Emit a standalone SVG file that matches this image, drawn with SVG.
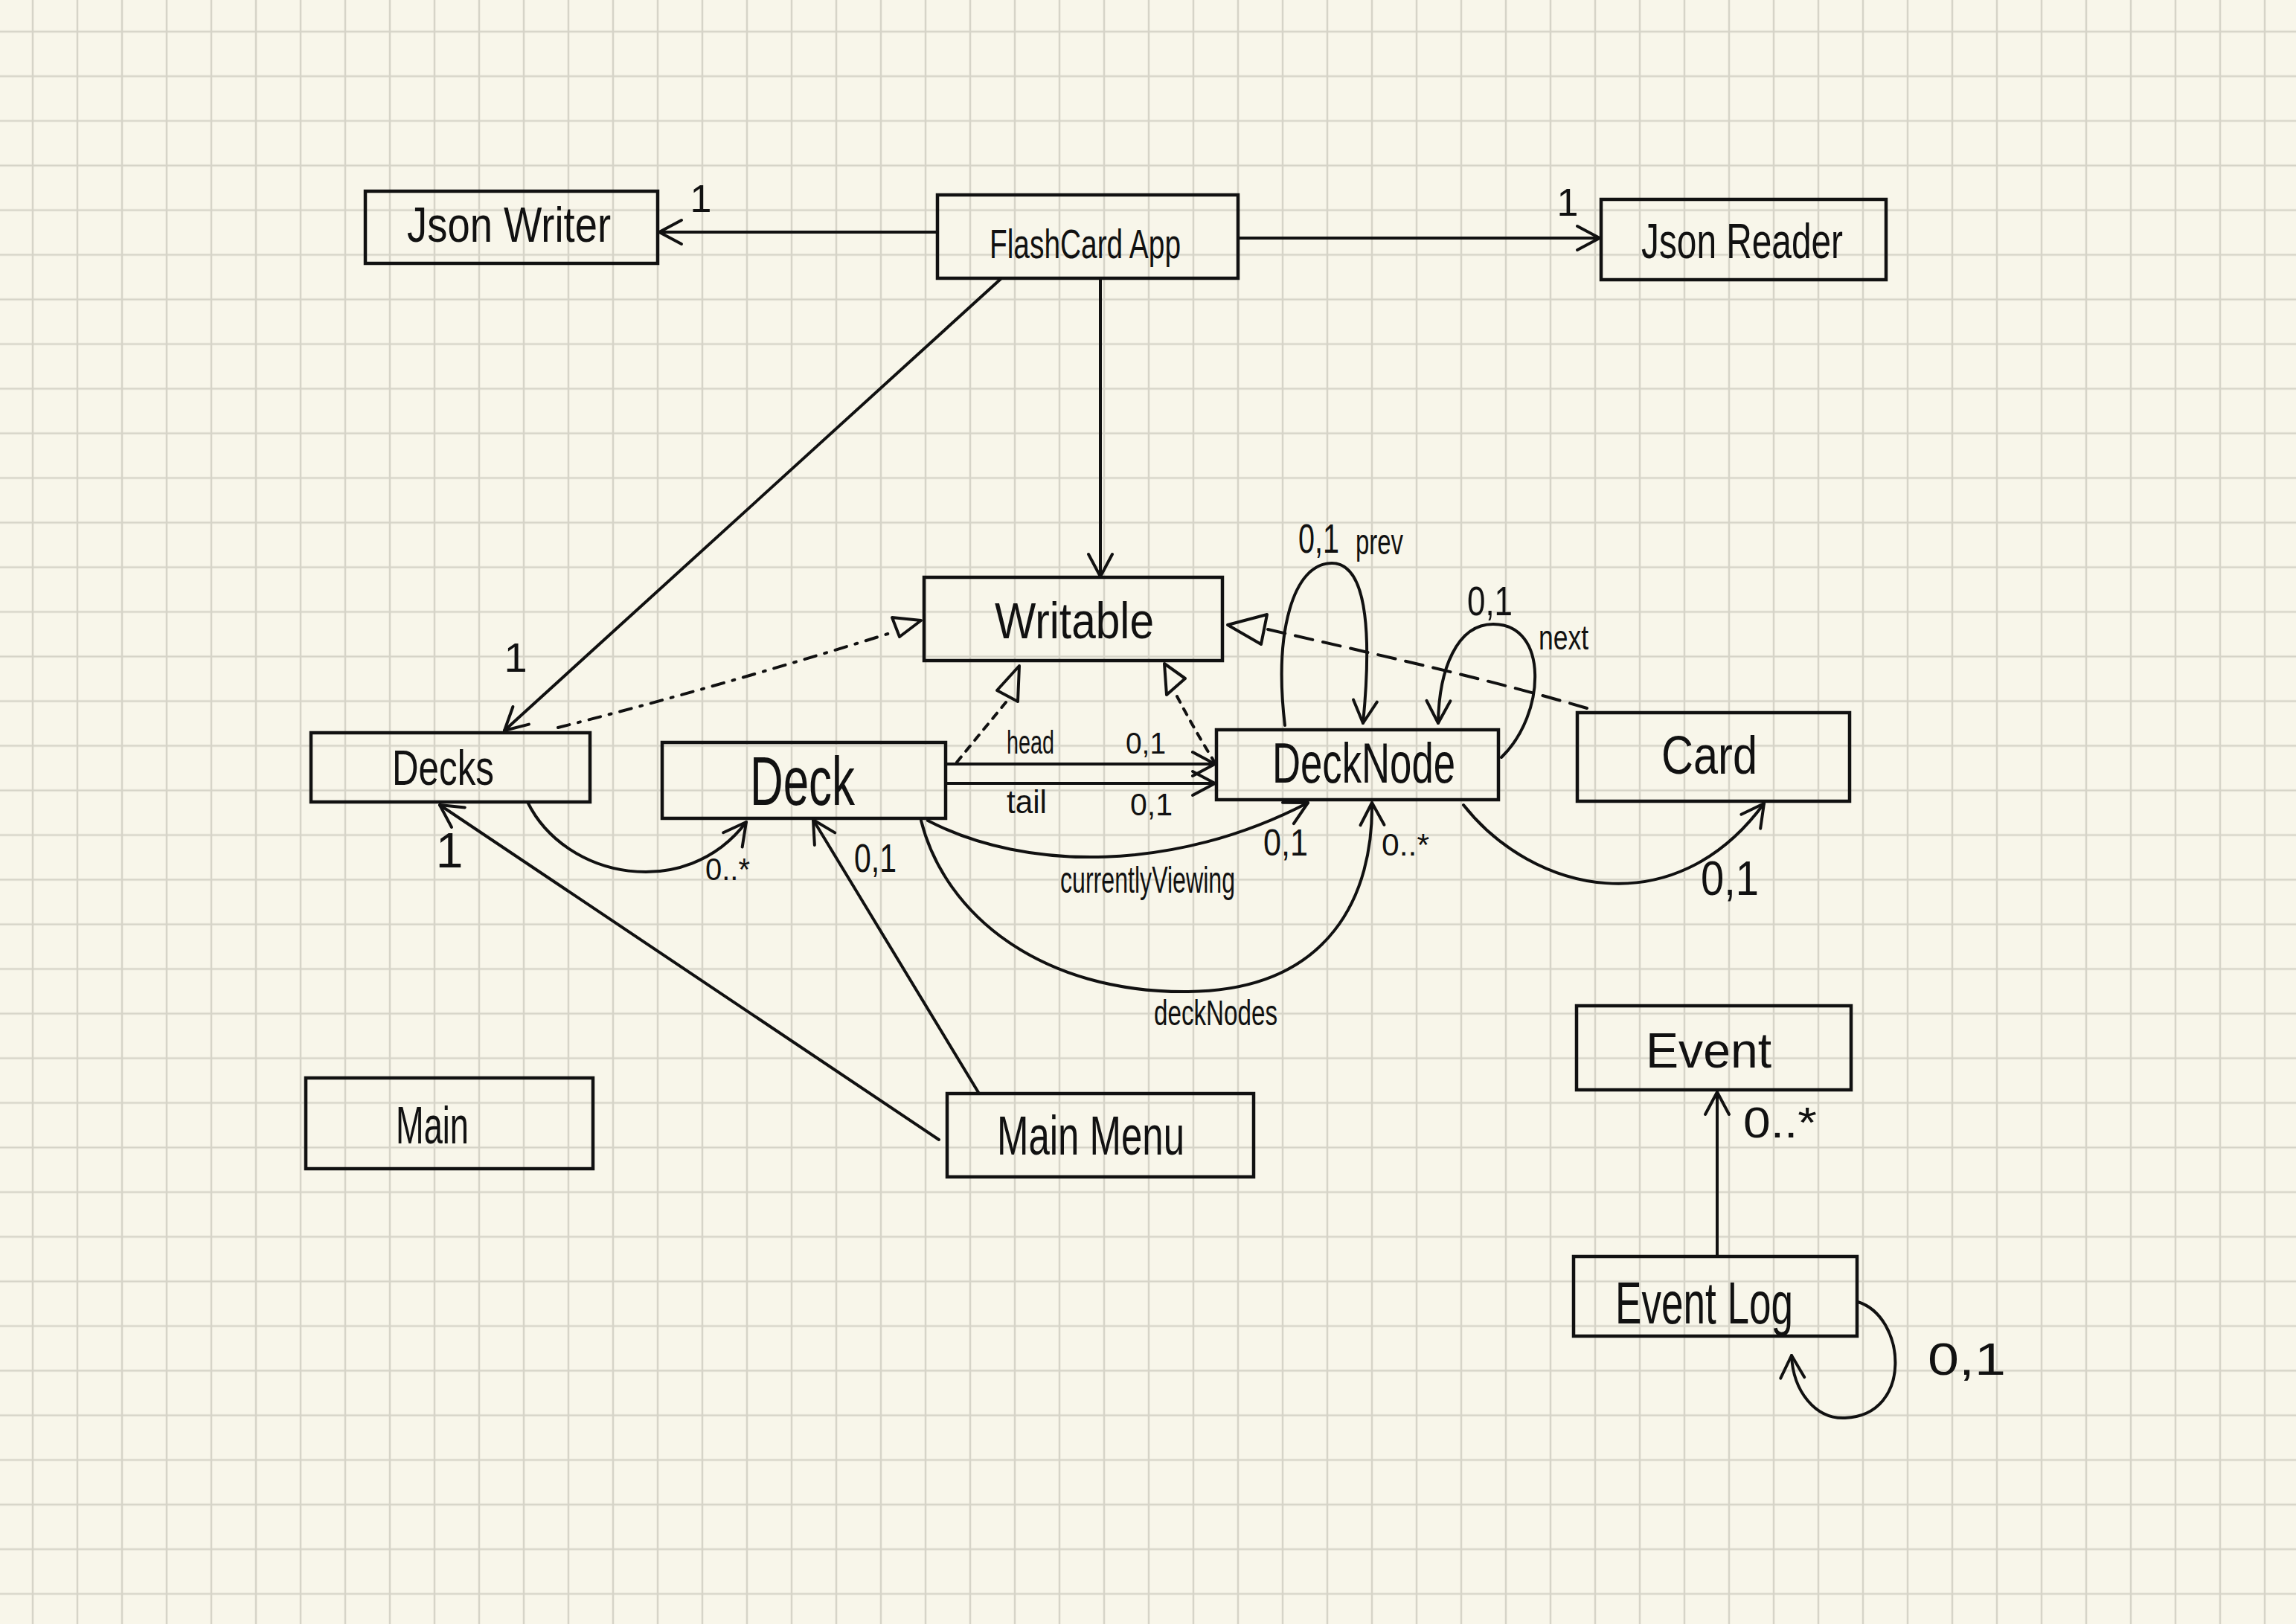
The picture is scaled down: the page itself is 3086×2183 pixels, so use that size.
<svg xmlns="http://www.w3.org/2000/svg" width="3086" height="2183" viewBox="0 0 3086 2183">
  <defs>
    <pattern id="grid" patternUnits="userSpaceOnUse" x="14" y="12.5" width="60" height="60">
      <path d="M30 0 V60 M0 30 H60" stroke="#d6d4c8" stroke-width="2.5" fill="none"/>
    </pattern>
    <marker id="open" viewBox="0 0 44 44" refX="40" refY="22" markerWidth="44" markerHeight="44" markerUnits="userSpaceOnUse" orient="auto">
      <path d="M10 6 L40 22 L10 38" fill="none" stroke="#111" stroke-width="4" stroke-linecap="round" stroke-linejoin="round"/>
    </marker>
    <style>
      .box { fill: none; stroke: #111; stroke-width: 4.5; }
      .ln { fill: none; stroke: #111; stroke-width: 4; stroke-linecap: round; }
      .arr { marker-end: url(#open); }
      .dashdot { stroke-dasharray: 16 12 3 12; }
      .dot { stroke-dasharray: 9 10; }
      .dash { stroke-dasharray: 24 14; }
      .tri { fill: none; stroke: #111; stroke-width: 4; stroke-linejoin: round; }
      text { font-family: "Liberation Sans Narrow", "Liberation Sans", "DejaVu Sans Condensed", sans-serif; fill: #111; }
    </style>
  </defs>

  <!-- squared notebook paper -->
  <rect width="3086" height="2183" fill="#f8f6ea"/>
  <rect width="3086" height="2183" fill="url(#grid)"/>

  <!-- class boxes -->
  <g id="json-writer">
    <rect class="box" x="491" y="257" width="393" height="97"/>
    <text x="547" y="325" font-size="67" textLength="274" lengthAdjust="spacingAndGlyphs">Json Writer</text>
  </g>
  <g id="flashcard-app">
    <rect class="box" x="1260" y="262" width="404" height="112"/>
    <text x="1330" y="347" font-size="56" textLength="257" lengthAdjust="spacingAndGlyphs">FlashCard App</text>
  </g>
  <g id="json-reader">
    <rect class="box" x="2152" y="268" width="383" height="108"/>
    <text x="2206" y="347" font-size="66" textLength="271" lengthAdjust="spacingAndGlyphs">Json Reader</text>
  </g>
  <g id="writable">
    <rect class="box" x="1242" y="776" width="401" height="112"/>
    <text x="1337" y="858" font-size="68" textLength="214" lengthAdjust="spacingAndGlyphs">Writable</text>
  </g>
  <g id="decks">
    <rect class="box" x="418" y="985" width="375" height="93"/>
    <text x="527" y="1055" font-size="66" textLength="137" lengthAdjust="spacingAndGlyphs">Decks</text>
  </g>
  <g id="deck">
    <rect class="box" x="890" y="998" width="381" height="102"/>
    <text x="1008" y="1082" font-size="92" textLength="141" lengthAdjust="spacingAndGlyphs">Deck</text>
  </g>
  <g id="deck-node">
    <rect class="box" x="1635" y="981" width="379" height="94"/>
    <text x="1710" y="1052" font-size="76" textLength="246" lengthAdjust="spacingAndGlyphs">DeckNode</text>
  </g>
  <g id="card">
    <rect class="box" x="2120" y="958" width="366" height="119"/>
    <text x="2233" y="1040" font-size="72" textLength="129" lengthAdjust="spacingAndGlyphs">Card</text>
  </g>
  <g id="main">
    <rect class="box" x="411" y="1449" width="386" height="122"/>
    <text x="532" y="1537" font-size="70" textLength="98" lengthAdjust="spacingAndGlyphs">Main</text>
  </g>
  <g id="main-menu">
    <rect class="box" x="1273" y="1470" width="412" height="112"/>
    <text x="1340" y="1552" font-size="75" textLength="252" lengthAdjust="spacingAndGlyphs">Main Menu</text>
  </g>
  <g id="event">
    <rect class="box" x="2119" y="1352" width="369" height="113"/>
    <text x="2212" y="1435" font-size="67" textLength="169" lengthAdjust="spacingAndGlyphs">Event</text>
  </g>
  <g id="event-log">
    <rect class="box" x="2115" y="1689" width="381" height="107"/>
    <text x="2171" y="1779" font-size="80" textLength="239" lengthAdjust="spacingAndGlyphs">Event Log</text>
  </g>

  <!-- associations and realizations -->
  <g id="connectors">
    <!-- FlashCard App -> Json Writer / Json Reader -->
    <path class="ln arr" d="M1260 312 L886 312"/>
    <text x="942" y="285" font-size="52" text-anchor="middle">1</text>
    <path class="ln arr" d="M1664 320 L2150 320"/>
    <text x="2107" y="290" font-size="52" text-anchor="middle">1</text>

    <!-- FlashCard App -> Decks / Writable -->
    <path class="ln arr" d="M1345 375 L678 982"/>
    <text x="693" y="903" font-size="56" text-anchor="middle">1</text>
    <path class="ln arr" d="M1479 374 L1479 775"/>

    <!-- Decks realizes Writable -->
    <path class="ln dashdot" d="M750 978 Q 960 925 1203 849"/>
    <polygon class="tri" points="1199,830 1238,834 1209,856"/>

    <!-- Deck realizes Writable -->
    <path class="ln dot" d="M1352 944 L1284 1027"/>
    <polygon class="tri" points="1370,895 1340,928 1368,943"/>

    <!-- DeckNode realizes Writable -->
    <path class="ln dot" d="M1582 936 Q 1606 982 1634 1027"/>
    <polygon class="tri" points="1565,892 1593,912 1568,934"/>

    <!-- Card realizes Writable -->
    <path class="ln dash" d="M1704 846 C 1850 880, 2000 912, 2143 955"/>
    <polygon class="tri" points="1650,840 1703,826 1695,866"/>

    <!-- Deck -> DeckNode: head / tail -->
    <path class="ln arr" d="M1272 1027 L1633 1027"/>
    <text x="1353" y="1013" font-size="44" textLength="64" lengthAdjust="spacingAndGlyphs">head</text>
    <text x="1513" y="1013" font-size="40" textLength="54" lengthAdjust="spacingAndGlyphs">0,1</text>
    <path class="ln arr" d="M1272 1053 L1633 1053"/>
    <text x="1353" y="1093" font-size="44" textLength="54" lengthAdjust="spacingAndGlyphs">tail</text>
    <text x="1519" y="1096" font-size="42" textLength="57" lengthAdjust="spacingAndGlyphs">0,1</text>

    <!-- DeckNode self references: prev / next -->
    <path class="ln arr" d="M1727 975 C 1712 850, 1738 757, 1790 757 C 1842 757, 1842 870, 1832 972"/>
    <text x="1745" y="743" font-size="55" textLength="55" lengthAdjust="spacingAndGlyphs">0,1</text>
    <text x="1822" y="745" font-size="48" textLength="64" lengthAdjust="spacingAndGlyphs">prev</text>
    <path class="ln arr" d="M2018 1018 C 2078 960, 2082 839, 2007 839 C 1958 839, 1934 900, 1933 972"/>
    <text x="1972" y="827" font-size="55" textLength="61" lengthAdjust="spacingAndGlyphs">0,1</text>
    <text x="2068" y="873" font-size="46" textLength="67" lengthAdjust="spacingAndGlyphs">next</text>

    <!-- Deck -> DeckNode: currentlyViewing / deckNodes -->
    <path class="ln arr" d="M1247 1103 C 1380 1172, 1580 1172, 1758 1079"/>
    <text x="1698" y="1150" font-size="50" textLength="60" lengthAdjust="spacingAndGlyphs">0,1</text>
    <text x="1425" y="1200" font-size="50" textLength="235" lengthAdjust="spacingAndGlyphs">currentlyViewing</text>
    <path class="ln arr" d="M1238 1103 C 1270 1230, 1400 1335, 1597 1333 C 1790 1331, 1846 1200, 1844 1079"/>
    <text x="1857" y="1150" font-size="42" textLength="64" lengthAdjust="spacingAndGlyphs">0..*</text>
    <text x="1551" y="1378" font-size="48" textLength="166" lengthAdjust="spacingAndGlyphs">deckNodes</text>

    <!-- Decks -> Deck -->
    <path class="ln arr" d="M709 1078 C 760 1182, 922 1212, 1003 1105"/>
    <text x="948" y="1183" font-size="42" textLength="60" lengthAdjust="spacingAndGlyphs">0..*</text>

    <!-- Main Menu -> Decks / Deck -->
    <path class="ln arr" d="M1262 1532 L591 1082"/>
    <text x="604" y="1166" font-size="66" text-anchor="middle">1</text>
    <path class="ln arr" d="M1316 1470 L1093 1102"/>
    <text x="1148" y="1172" font-size="54" textLength="57" lengthAdjust="spacingAndGlyphs">0,1</text>

    <!-- DeckNode -> Card -->
    <path class="ln arr" d="M1967 1082 C 2060 1200, 2250 1245, 2371 1080"/>
    <text x="2286" y="1203" font-size="64" textLength="78" lengthAdjust="spacingAndGlyphs">0,1</text>

    <!-- Event Log -> Event, and its self reference -->
    <path class="ln arr" d="M2308 1689 L2308 1468"/>
    <text x="2343" y="1529" font-size="58" textLength="99" lengthAdjust="spacingAndGlyphs">0..*</text>
    <path class="ln arr" d="M2497 1750 C 2562 1770, 2572 1902, 2480 1906 C 2440 1908, 2410 1870, 2408 1822"/>
    <text x="2591" y="1848" font-size="62" textLength="105" lengthAdjust="spacingAndGlyphs">0,1</text>
  </g>
</svg>
